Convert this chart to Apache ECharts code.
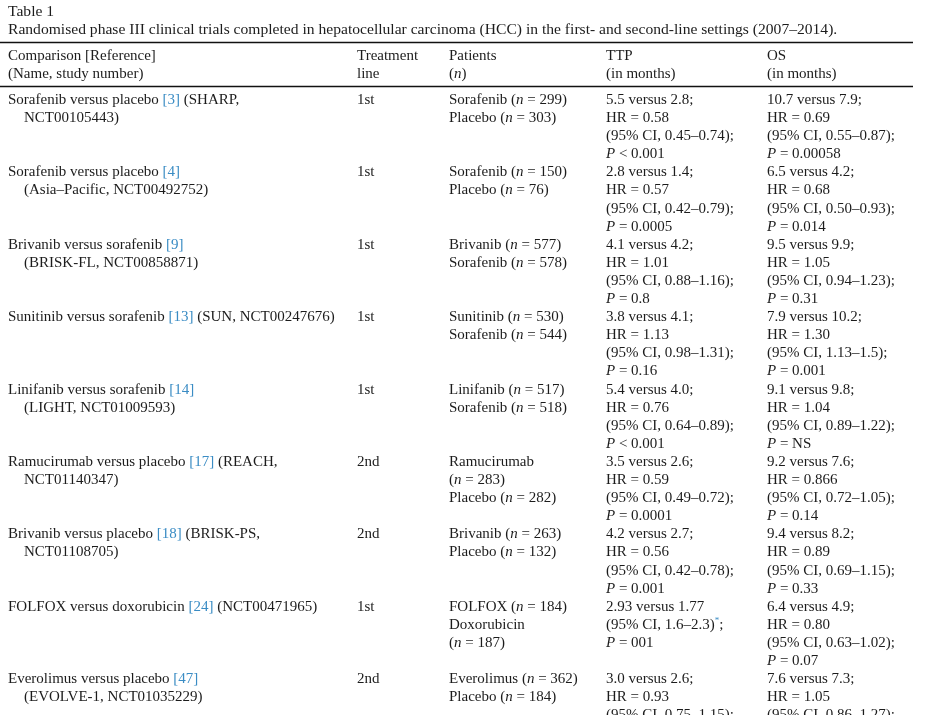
<!DOCTYPE html>
<html>
<head>
<meta charset="utf-8">
<script src="https://cdn.jsdelivr.net/npm/echarts@6/dist/echarts.min.js"></script>
<style>html,body{margin:0;padding:0;background:#fff}#c{width:933px;height:715px}</style>
</head>
<body>
<div id="c"></div>
<script>
const tableTitle = 'Table 1';
const caption = 'Randomised phase III clinical trials completed in hepatocellular carcinoma (HCC) in the first- and second-line settings (2007–2014).';
const headComparison = ['Comparison [Reference]', '(Name, study number)'];
const headLine = ['Treatment', 'line'];
const headPatients = ['Patients', '(n)'];
const headTTP = ['TTP', '(in months)'];
const headOS = ['OS', '(in months)'];

const comparisons = [
  ['Sorafenib versus placebo [3] (SHARP,', 'NCT00105443)'],
  ['Sorafenib versus placebo [4]', '(Asia–Pacific, NCT00492752)'],
  ['Brivanib versus sorafenib [9]', '(BRISK-FL, NCT00858871)'],
  ['Sunitinib versus sorafenib [13] (SUN, NCT00247676)'],
  ['Linifanib versus sorafenib [14]', '(LIGHT, NCT01009593)'],
  ['Ramucirumab versus placebo [17] (REACH,', 'NCT01140347)'],
  ['Brivanib versus placebo [18] (BRISK-PS,', 'NCT01108705)'],
  ['FOLFOX versus doxorubicin [24] (NCT00471965)'],
  ['Everolimus versus placebo [47]', '(EVOLVE-1, NCT01035229)']
];
const treatmentLines = ['1st', '1st', '1st', '1st', '1st', '2nd', '2nd', '1st', '2nd'];
const patients = [
  ['Sorafenib (n = 299)', 'Placebo (n = 303)'],
  ['Sorafenib (n = 150)', 'Placebo (n = 76)'],
  ['Brivanib (n = 577)', 'Sorafenib (n = 578)'],
  ['Sunitinib (n = 530)', 'Sorafenib (n = 544)'],
  ['Linifanib (n = 517)', 'Sorafenib (n = 518)'],
  ['Ramucirumab', '(n = 283)', 'Placebo (n = 282)'],
  ['Brivanib (n = 263)', 'Placebo (n = 132)'],
  ['FOLFOX (n = 184)', 'Doxorubicin', '(n = 187)'],
  ['Everolimus (n = 362)', 'Placebo (n = 184)']
];
const ttp = [
  ['5.5 versus 2.8;', 'HR = 0.58', '(95% CI, 0.45–0.74);', 'P < 0.001'],
  ['2.8 versus 1.4;', 'HR = 0.57', '(95% CI, 0.42–0.79);', 'P = 0.0005'],
  ['4.1 versus 4.2;', 'HR = 1.01', '(95% CI, 0.88–1.16);', 'P = 0.8'],
  ['3.8 versus 4.1;', 'HR = 1.13', '(95% CI, 0.98–1.31);', 'P = 0.16'],
  ['5.4 versus 4.0;', 'HR = 0.76', '(95% CI, 0.64–0.89);', 'P < 0.001'],
  ['3.5 versus 2.6;', 'HR = 0.59', '(95% CI, 0.49–0.72);', 'P = 0.0001'],
  ['4.2 versus 2.7;', 'HR = 0.56', '(95% CI, 0.42–0.78);', 'P = 0.001'],
  ['2.93 versus 1.77', '(95% CI, 1.6–2.3)*;', 'P = 001'],
  ['3.0 versus 2.6;', 'HR = 0.93', '(95% CI, 0.75–1.15);']
];
const os = [
  ['10.7 versus 7.9;', 'HR = 0.69', '(95% CI, 0.55–0.87);', 'P = 0.00058'],
  ['6.5 versus 4.2;', 'HR = 0.68', '(95% CI, 0.50–0.93);', 'P = 0.014'],
  ['9.5 versus 9.9;', 'HR = 1.05', '(95% CI, 0.94–1.23);', 'P = 0.31'],
  ['7.9 versus 10.2;', 'HR = 1.30', '(95% CI, 1.13–1.5);', 'P = 0.001'],
  ['9.1 versus 9.8;', 'HR = 1.04', '(95% CI, 0.89–1.22);', 'P = NS'],
  ['9.2 versus 7.6;', 'HR = 0.866', '(95% CI, 0.72–1.05);', 'P = 0.14'],
  ['9.4 versus 8.2;', 'HR = 0.89', '(95% CI, 0.69–1.15);', 'P = 0.33'],
  ['6.4 versus 4.9;', 'HR = 0.80', '(95% CI, 0.63–1.02);', 'P = 0.07'],
  ['7.6 versus 7.3;', 'HR = 1.05', '(95% CI, 0.86–1.27);']
];

// ---- layout / style ----
const FAM = '"Liberation Serif", "Times New Roman", serif';
const FS = 15;
const CAP_FS = 15.6;
const INK = '#1c1c1c';
const BLUE = '#3a8cc4';
const LH = 18.1;
const colX = [8, 357, 449, 606, 767];
const indentX = 24;
const rule1 = 42.5, rule2 = 86.5, ruleEnd = 913;
const bodyTop = 100;
const rowLines = 4;

function makeRich(fs) {
  return {
    ref: { font: fs + 'px ' + FAM, fill: BLUE },
    it: { font: 'italic ' + fs + 'px ' + FAM, fill: INK },
    sup: { font: '9px ' + FAM, fill: BLUE, verticalAlign: 'top', padding: [0, 0, 8, 0] }
  };
}

function markup(s) {
  return s
    .replace(/\[(\d+)\]/g, '{ref|[$1]}')
    .replace(/\(n(\s|\))/g, '({it|n}$1')
    .replace(/^P /, '{it|P} ')
    .replace(/\)\*;/, '){sup|*};');
}

const graphics = [];
function addText(str, x, y, fs) {
  fs = fs || FS;
  graphics.push({
    type: 'text', x: x, y: y, silent: true,
    style: {
      text: markup(str), font: fs + 'px ' + FAM, fill: INK,
      verticalAlign: 'middle', align: 'left', rich: makeRich(fs)
    }
  });
}
function addRule(y) {
  graphics.push({
    type: 'line', silent: true,
    shape: { x1: 0, y1: y, x2: ruleEnd, y2: y },
    style: { stroke: '#111', lineWidth: 1.3 }
  });
}

addText(tableTitle, 8, 12, CAP_FS);
addText(caption, 8, 30, CAP_FS);
addRule(rule1);
addRule(rule2);

const heads = [headComparison, headLine, headPatients, headTTP, headOS];
heads.forEach((h, c) => h.forEach((t, i) => addText(t, colX[c], 56 + i * LH)));

comparisons.forEach((rowText, r) => {
  const y0 = bodyTop + r * rowLines * LH;
  rowText.forEach((t, i) => addText(t, i === 0 ? colX[0] : indentX, y0 + i * LH));
  addText(treatmentLines[r], colX[1], y0);
  patients[r].forEach((t, i) => addText(t, colX[2], y0 + i * LH));
  ttp[r].forEach((t, i) => addText(t, colX[3], y0 + i * LH));
  os[r].forEach((t, i) => addText(t, colX[4], y0 + i * LH));
});

const chart = echarts.init(document.getElementById('c'));
chart.setOption({
  backgroundColor: '#fff',
  animation: false,
  graphic: graphics
});
</script>
</body>
</html>
